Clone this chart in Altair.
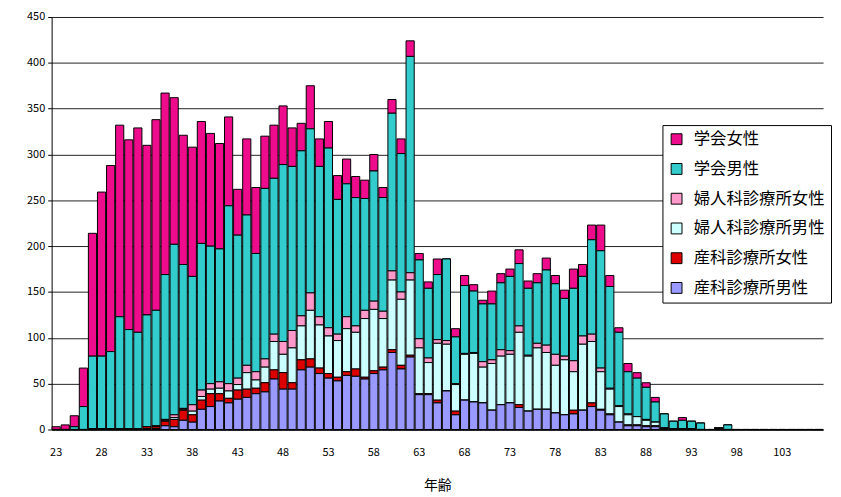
import altair as alt
import pandas as pd

ages = list(range(23, 108))

# 産科診療所男性
sanka_m = [0,0,0,0,0,0,0,1,0,1, 1,1,4,3,10,8,22,25,31,29, 33,35,39,41,55,44,44,65,68,61,
           56,53,59,58,55,61,65,84,66,79, 38,38,29,42,16,32,30,29,21,27, 29,24,20,22,22,18,16,17,21,25,
           21,16,8,4,4,3,3,1,0,0, 0,0,0,1,0] + [0]*10
# 産科診療所女性
sanka_f = [0,0,0,0,1,0,1,0,1,0, 2,2,5,8,11,8,10,14,8,5, 10,9,6,10,10,18,7,11,9,6,
           5,4,4,8,2,3,3,3,4,2, 1,1,3,0,4,0,0,0,0,0, 0,3,0,0,0,0,0,4,0,4,
           1,1,0,1,1,1,1,0,0,0, 0,0,0,0,0] + [0]*10
# 婦人科診療所男性
fujin_m = [0,0,0,0,0,1,0,0,0,0, 0,1,1,2,1,4,4,5,6,8, 6,18,9,17,31,20,38,37,53,47,
           41,40,47,40,64,67,53,76,72,82, 50,34,62,51,29,50,53,39,51,53, 53,79,60,67,62,52,60,42,72,67,
           41,27,17,11,9,6,4,1,1,1, 1,0,0,1,0] + [0]*10
# 婦人科診療所女性
fujin_f = [0,0,0,0,0,0,0,0,0,0, 0,0,1,3,1,7,7,6,7,8, 7,8,9,9,8,14,19,11,19,9,
           9,7,13,7,9,9,8,10,8,8, 10,5,4,4,1,1,1,6,4,7, 4,7,1,5,8,12,4,12,9,8,
           4,1,1,1,0,1,0,0,0,0, 0,0,0,0,0] + [0]*10
# 学会男性
gakkai_m = [0,0,3,25,79,79,84,122,108,105, 122,126,158,186,157,140,160,150,145,194, 156,164,129,186,170,193,179,180,179,164,
            196,147,145,140,122,142,124,172,151,236, 86,76,71,89,51,74,67,63,61,73, 81,68,73,66,82,77,63,79,65,103,
            128,111,80,46,42,35,22,15,8,9, 8,7,0,0,5] + [0]*10
# 学会女性
gakkai_f = [3,5,12,42,134,179,203,209,207,223, 185,208,198,160,141,141,133,123,115,97, 50,83,72,57,58,64,42,30,47,30,
            29,26,27,23,20,18,11,15,16,17, 7,7,17,0,9,11,7,4,14,10, 8,15,8,10,13,9,9,21,13,16,
            28,12,5,9,6,5,5,0,0,3, 0,0,0,0,0] + [0]*10

series_names = ["学会女性", "学会男性", "婦人科診療所女性", "婦人科診療所男性", "産科診療所女性", "産科診療所男性"]
series_colors = ["#EE0C8C", "#33CCCC", "#FF99CC", "#CCFFFF", "#DD0000", "#9999FF"]
series_values = [gakkai_f, gakkai_m, fujin_f, fujin_m, sanka_f, sanka_m]
label_ages = list(range(23, 104, 5))

rows = []
for k, (name, vals) in enumerate(zip(series_names, series_values)):
    stack_order = len(series_names) - k  # 産科男性 at the bottom
    for a, v in zip(ages, vals):
        rows.append({"age": a, "series": name, "value": v, "ord": stack_order})
df = pd.DataFrame(rows)

font = "Noto Sans CJK JP"

chart = alt.Chart(df).mark_bar(stroke="black", strokeWidth=1).encode(
    x=alt.X("age:O",
            scale=alt.Scale(paddingInner=0.1, paddingOuter=0.05),
            axis=alt.Axis(values=label_ages, labelAngle=0, ticks=False, title="年齢",
                          labelFont=font, labelFontSize=11, labelColor="black", labelPadding=17,
                          titleFont=font, titleFontSize=14, titleFontWeight="normal", titleColor="black",
                          titlePadding=22, domainColor="black", domainWidth=1.5)),
    y=alt.Y("value:Q", stack="zero",
            scale=alt.Scale(domain=[0, 450], nice=False),
            axis=alt.Axis(values=list(range(0, 451, 50)), title=None, grid=True,
                          gridColor="#222222", gridWidth=1, gridOpacity=1,
                          labelFont=font, labelFontSize=11, labelColor="black", labelPadding=3,
                          tickColor="black", tickSize=4, domainColor="black")),
    color=alt.Color("series:N",
                    scale=alt.Scale(domain=series_names, range=series_colors),
                    legend=alt.Legend(title=None, orient="none", legendX=616, legendY=109,
                                      fillColor="white", strokeColor="black", padding=6,
                                      symbolType="square", symbolSize=120, symbolStrokeColor="black",
                                      symbolStrokeWidth=1, labelFont=font, labelFontSize=16.5,
                                      labelColor="black", rowPadding=13, labelOffset=9)),
    order=alt.Order("ord:Q"),
).properties(
    width=778, height=416,
    autosize=alt.AutoSizeParams(type="none"),
    padding={"left": 44, "top": 7, "right": 10, "bottom": 64},
).configure_view(stroke=None)

chart.save("out.html", embed_options={"renderer": "svg", "actions": False})
